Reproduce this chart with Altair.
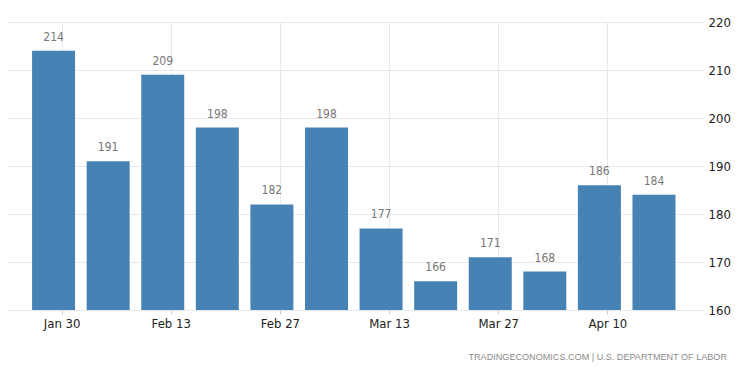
import altair as alt
import pandas as pd

dates = ["Jan 30", "Feb 6", "Feb 13", "Feb 20", "Feb 27", "Mar 6",
         "Mar 13", "Mar 20", "Mar 27", "Apr 3", "Apr 10", "Apr 17"]
values = [214, 191, 209, 198, 182, 198, 177, 166, 171, 168, 186, 184]
y_ticks = [160, 170, 180, 190, 200, 210, 220]
x_tick_idx = [0, 2, 4, 6, 8, 10]
source_text = "TRADINGECONOMICS.COM  |  U.S. DEPARTMENT OF LABOR"

df = pd.DataFrame({"idx": list(range(len(dates))), "date": dates, "value": values})

label_arr = "[" + ",".join("'" + d + "'" for d in dates) + "]"
FONT = "DejaVu Sans Condensed, DejaVu Sans"

x = alt.X(
    "idx:Q",
    scale=alt.Scale(domain=[-0.89, 11.66], nice=False, zero=False),
    axis=alt.Axis(
        title=None, values=x_tick_idx, labelExpr=label_arr + "[datum.value]",
        grid=True, gridColor="#d2d2d2", gridDash=[1, 1], domain=False,
        tickSize=4, tickColor="#cccccc", labelPadding=3, labelFont=FONT,
        labelFontSize=13, labelColor="#222222", labelAngle=0,
    ),
)
y = alt.Y(
    "value:Q",
    scale=alt.Scale(domain=[160, 220], nice=False, zero=False),
    axis=alt.Axis(
        title=None, orient="right", values=y_ticks, grid=True,
        gridColor="#d2d2d2", gridDash=[1, 1], domain=False, ticks=False,
        labelPadding=5, labelFont=FONT, labelFontSize=13,
        labelColor="#222222",
    ),
)

base = alt.Chart(df)
bars = base.mark_bar(width=43, xOffset=-8, color="#4682b4").encode(
    x=x, y=y, y2=alt.datum(160)
)
labels = base.mark_text(
    dx=-8, dy=-7, baseline="bottom", font=FONT, fontSize=12, color="#777777"
).encode(x="idx:Q", y="value:Q", text="value:Q")

footer = alt.Chart(pd.DataFrame({"t": [source_text]})).mark_text(
    align="right", baseline="middle", font="Liberation Sans", fontSize=9.1,
    color="#8a8a8a",
).encode(x=alt.value(719), y=alt.value(335), text="t:N")

chart = alt.layer(bars, labels, footer).properties(
    width=695, height=288,
    autosize=alt.AutoSizeParams(type="none"),
    padding={"left": 0, "top": 14, "right": 39, "bottom": 55},
).configure_view(stroke=None)

chart.save("out.html", embed_options={"renderer": "svg", "actions": False})
